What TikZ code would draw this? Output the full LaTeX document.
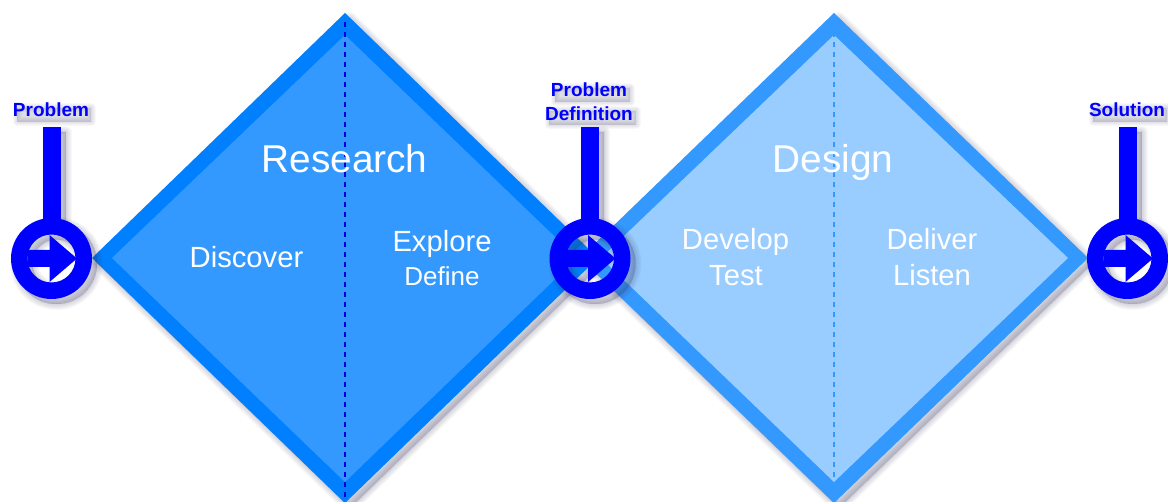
\documentclass[tikz,border=0pt]{standalone}
\usepackage{fontspec}
\setmainfont{Liberation Sans}
\definecolor{dOneOuter}{HTML}{0080FF}
\definecolor{dOneInner}{HTML}{3399FF}
\definecolor{dTwoOuter}{HTML}{3399FF}
\definecolor{dTwoInner}{HTML}{99CCFF}
\definecolor{markBlue}{HTML}{0000FF}
\definecolor{dashOne}{HTML}{0000DD}
\definecolor{shadowCol}{HTML}{3A3A66}
\newcommand{\softshadow}[2][5]{%
  \foreach \w in {12,10,8,6,4,2,0}{%
    \path[fill=shadowCol,draw=shadowCol,fill opacity=.035,draw opacity=.035,line width=\w pt,line join=round,even odd rule,shift={(#1,#1)}] #2;}%
}
\newcommand{\haze}[4]{%
  \foreach \w in {9,7,5,3,1}{%
    \path[fill=shadowCol,draw=shadowCol,fill opacity=.035,draw opacity=.035,line width=\w pt,line join=round] (#1+3,#2+3) rectangle (#3+3,#4+3);}%
}
\newcommand{\marker}[2]{%
  \softshadow{(#2-9,127) rectangle (#2+9,222)}
  \softshadow{(#2,258.5) circle[radius=40.5] (#2,258.5) circle[radius=24]}
  \fill[markBlue] (#2-9,127) rectangle (#2+9,222);
  \fill[markBlue,even odd rule] (#2,258.5) circle[radius=40.5] (#2,258.5) circle[radius=24];
  \fill[markBlue] (#2-24,250) -- (#2-2,250) -- (#2-2,235) -- (#2+25.5,258.5) -- (#2-2,282) -- (#2-2,267) -- (#2-24,267) -- cycle;
  \coordinate (#1) at (#2,258.5);
}
\tikzset{
  headText/.style={text=white,font=\fontsize{38.8}{38.8}\selectfont,inner sep=0pt,anchor=base},
  subText/.style={text=white,font=\fontsize{29.2}{29.2}\selectfont,inner sep=0pt,anchor=base},
  smallText/.style={text=white,font=\fontsize{26}{26}\selectfont,inner sep=0pt,anchor=base},
  markText/.style={text=markBlue,font=\bfseries\fontsize{19}{19}\selectfont,inner sep=0pt,anchor=base},
}
\begin{document}
\begin{tikzpicture}[x=1pt,y=-1pt]
\useasboundingbox (0,0) rectangle (1168,502);
\clip (0,0) rectangle (1168,502);
\fill[white] (0,0) rectangle (1168,502);
% Diamonds
\softshadow{(345,13) -- (598,258) -- (345,503) -- (92,258) -- cycle}
\softshadow{(834,13) -- (1088,258) -- (834,503) -- (580,258) -- cycle}
\fill[dOneOuter] (345,13) -- (598,258) -- (345,503) -- (92,258) -- cycle;
\fill[dOneInner] (345,35) -- (577,258) -- (345,482) -- (112,258) -- cycle;
\fill[dTwoOuter] (834,13) -- (1088,258) -- (834,503) -- (580,258) -- cycle;
\fill[dTwoInner] (834,35) -- (1068,258) -- (834,482) -- (601,258) -- cycle;
\coordinate (topA) at (345,22);
\coordinate (botA) at (345,497);
\coordinate (topB) at (834,22);
\coordinate (botB) at (834,497);
\draw[dashOne,line width=1.5pt,dash pattern=on 5.5pt off 4.5pt] (topA) -- (botA);
\draw[dTwoOuter,line width=1.5pt,dash pattern=on 5.5pt off 4.5pt] (topB) -- (botB);
% Markers
\marker{mA}{51.5}
\marker{mB}{590}
\marker{mC}{1127.5}
% Diamond texts
\node[headText] (research) at (344.5,173) {Research};
\node[subText] (discover) at (246.5,268) {Discover};
\node[subText] (explore) at (442,252) {Explore};
\node[smallText] (define) at (442,286) {Define};
\node[headText] (design) at (833,173) {Design};
\node[subText] (develop) at (735.5,250) {Develop};
\node[subText] (test) at (736,286) {Test};
\node[subText] (deliver) at (932,250) {Deliver};
\node[subText] (listen) at (932,286) {Listen};
% Marker labels
\haze{14}{105}{88}{119}
\haze{552}{85}{627}{99}
\haze{546}{108}{633}{122}
\haze{1090}{105}{1164}{119}
\node[markText] (lA) at (51,117) {Problem};
\node[markText] (lB) at (589,97) {Problem};
\node[markText] (lC) at (589,121) {Definition};
\node[markText] (lD) at (1127,117) {Solution};
\end{tikzpicture}
\end{document}
